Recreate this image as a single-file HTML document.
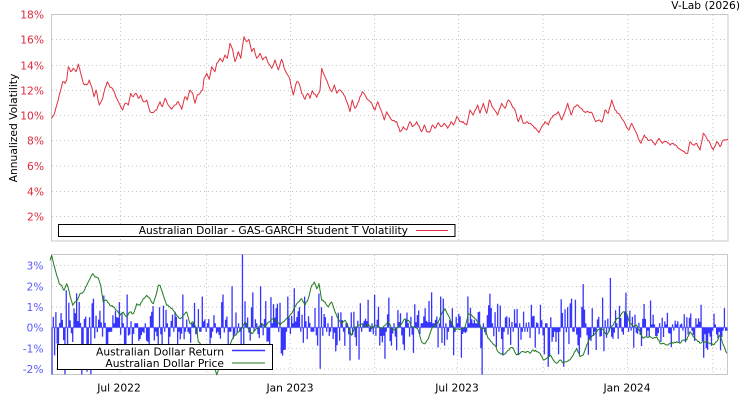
<!DOCTYPE html>
<html><head><meta charset="utf-8"><style>
html,body{margin:0;padding:0;background:#fff;}
svg{display:block;}
text{font-family:"DejaVu Sans","Liberation Sans",sans-serif;font-size:10.7px;}
</style></head><body>
<svg id="s" width="750" height="400" viewBox="0 0 750 400" xmlns="http://www.w3.org/2000/svg">
<defs>
<clipPath id="cb"><rect x="51.5" y="254.5" width="676" height="120"/></clipPath>
</defs>
<rect width="750" height="400" fill="#fff"/>
<text x="740" y="9" text-anchor="end" fill="#000">V-Lab (2026)</text>

<g stroke="#c4c4c4" stroke-width="1" stroke-dasharray="1,3" fill="none">
<path d="M52 39.5H727M52 65.5H727M52 90.5H727M52 115.5H727M52 140.5H727M52 166H727M52 191.5H727M52 216.5H727"/>
<path d="M120.5 15V240M206.5 15V240M290.5 15V240M374.5 15V240M458.5 15V240M543 15V240M628 15V240M713 15V240"/>
<path d="M52 265.5H727M52 286.5H727M52 307H727M52 348.5H727M52 369H727"/>
<path d="M120 255V373M206.5 255V373M290 255V373M374.5 255V373M457.5 255V373M543 255V373M627.5 255V373M713 255V373"/>
</g>
<rect x="51.5" y="14.5" width="676.5" height="226.5" fill="none" stroke="#c8c8c8" stroke-width="1"/>
<rect x="51.5" y="254.5" width="676" height="120" fill="none" stroke="#c8c8c8" stroke-width="1"/>

<g fill="#dc2b3c" text-anchor="end">
<text x="44" y="18.5">18%</text>
<text x="44" y="43.5">16%</text>
<text x="44" y="69.5">14%</text>
<text x="44" y="94.5">12%</text>
<text x="44" y="119.5">10%</text>
<text x="44" y="144.5">8%</text>
<text x="44" y="170">6%</text>
<text x="44" y="195.5">4%</text>
<text x="44" y="220.5">2%</text>
</g>
<text transform="translate(17,128) rotate(-90)" text-anchor="middle" fill="#000">Annualized Volatility</text>

<g fill="#5a5aff" text-anchor="end">
<text x="43.5" y="269.5">3%</text>
<text x="43.5" y="290.5">2%</text>
<text x="43.5" y="311">1%</text>
<text x="43.5" y="331.5">0%</text>
<text x="43.5" y="352.5">-1%</text>
<text x="43.5" y="373">-2%</text>
</g>

<g fill="#000" text-anchor="middle">
<text x="119" y="391.5">Jul 2022</text>
<text x="290" y="391.5">Jan 2023</text>
<text x="457" y="391.5">Jul 2023</text>
<text x="627" y="391.5">Jan 2024</text>
</g>

<polyline id="red" fill="none" stroke="#e0303f" stroke-width="1" stroke-linejoin="round" points="51.7,118.3 54,115 56.7,105 59.3,95 62.7,81.7 65,83.3 66.7,80 68.3,66.7 70.7,71.7 73.3,68.3 76,71.7 78.3,64 80.7,73.3 83.3,83.3 86.7,85 89.3,80 91.7,86.7 94,96.7 96,90 99.3,105 102.7,98.3 105,88.3 107.3,81.7 110,87.3 113.3,90 116.7,98.3 120,105 122.7,110 125,103.3 128.3,105 130.7,93.3 133.3,96.7 136,93.3 138.3,98.3 140.7,95 143.3,101.7 146.7,100 150,111.7 153.3,112.7 156.7,110 160,101.7 162.3,106.7 165,98.3 168.3,105 171.7,109.3 175,105 178.3,101.7 181.7,109.3 185,96.7 187.3,100 190,90 192.7,93.3 195,103.3 197.3,95 200,93.3 202.7,90 204,78.3 206.7,73.3 209.3,79.3 211.7,66.7 215,71.7 216.7,63.3 220,58.3 222.7,61.7 225,55 227.3,58.3 230,43.3 232.7,50 235,61.7 238.3,51.7 240.7,58.3 242.7,45 244,36.7 246.7,41.7 249,39.3 251.7,51.7 254,48.3 256.7,58.3 260,53.3 262.7,60 266,56.7 268.3,63.3 271.7,68.3 275,60 278.3,70 281.7,59.3 285,70 287.7,75 290,80 293.3,95 296.7,81.7 299,83.3 301.7,93.3 305,99.3 307.7,93.3 310,98.3 312.3,90.7 316.7,97.3 320,90 321.7,68.3 325,76.7 328.3,85 331.7,91.7 334.3,85 336.7,93.3 339,90 341.7,91.7 345,96.7 350,111.7 352.3,100 355,108.3 357.7,103.3 362.3,91.7 365,95 368.3,100 371.7,103.3 375,110 377.7,101.7 381,110 384.3,120 386.7,111.7 391.7,120 396.7,121.7 400,131.7 403.3,126.7 406.7,130 410,121.7 412.3,126.7 416.7,121.7 421.7,131.7 424.3,125 426.7,131.7 430,131.7 432.3,125 435,128.3 438.3,122.7 441,126.7 444.3,123.3 447.7,128.3 451,121.7 453.3,125 456.7,116.7 460,121.7 463.3,121.7 466.7,125 470,110 473.3,115 477.7,105 480,113.3 483.3,103.3 486.7,113.3 489.3,100 493.3,108.3 497.7,115 501.7,103.3 505,108.3 508.3,100 511.7,105 515,110 518.3,121.7 521,115 523.3,123.3 526.7,121.7 530,123.3 533.3,126 536.7,130 539,132.7 541.7,126.7 545,121.7 548.3,125 551,118.3 554.3,115 558.3,111.7 561.7,120 564.3,113.3 567.7,103.3 571,115 574.3,106.7 577.7,105 581,108.3 584.3,111.7 588.3,111.7 592.3,113.3 595.7,121.7 599,120 602.3,121.7 605,110 608.3,113.3 611.7,100 615,110 618.3,113.3 621.7,118.3 625.7,125 629,130 631.7,123.3 635.7,131.7 638.3,138.3 641,143.3 644.3,135 647.7,140 651.7,140 655,145 659,138.3 662.3,143.3 666.7,141.7 670,145 673.3,143.3 676.7,146 681,150 684.3,151.7 687.7,153.3 690,141.7 693.3,145 696.7,143.3 700,150 703.3,133.3 706.7,138.3 710,143.3 713.3,150 716.7,141.7 720,146.7 723.3,140 726.7,140 728,139"/>

<rect x="58.5" y="224.5" width="396.5" height="12" fill="#fff" stroke="#000" stroke-width="1"/>
<text x="408" y="234" text-anchor="end" fill="#000">Australian Dollar - GAS-GARCH Student T Volatility</text>
<line x1="416" y1="230.5" x2="448" y2="230.5" stroke="#e0303f" stroke-width="1"/>

<line x1="52" y1="327.5" x2="727" y2="327.5" stroke="#9a9aff" stroke-width="1.2"/>
<path id="bars" clip-path="url(#cb)" fill="none" stroke="#3535ff" stroke-width="1.3" d=""/>

<polyline id="green" fill="none" stroke="#1f7a1f" stroke-width="1" stroke-linejoin="round" points="50,260.3 51.7,255.3 54,265.3 56.7,275.3 59.3,283.7 61.7,285.3 64,290.3 66.7,283.7 69.3,292 72.7,305.3 75,302 77.3,300.3 80,293.7 83.3,292 86.7,285.3 90,278.7 92.7,273.7 95,277 98.3,278 100.7,285.3 103.3,302 106.7,300.3 110,305.3 113.3,307 116.7,310.3 120,315.3 123.3,312 126.7,317 130,312 133.3,313.7 136.7,303.7 140,305.3 143.3,298.7 146.7,295.3 150,298.7 153.3,303.7 156,295.3 158.3,285.3 160,285.3 163.3,295.3 166.7,305.3 170,307 173.3,310.3 176.7,315.3 180,318.7 183.3,315.3 186.7,312 190,323.7 193.3,322 196.7,328.7 198.3,342 201.7,345.3 205,352 208.3,358.7 211.7,362 215,368.7 216.7,374.7 218.3,370.3 221.7,362 225,355.3 228.3,348.7 231.7,340.3 235,335.3 238.3,332 241.7,328.7 245,322 248.3,328.7 251.7,333.7 255,330.3 258.3,327 261.7,323.7 265,327 268.3,322 272.7,319 276.7,321 280,325 283,322 285,320.3 288.3,317 291.7,313.7 295,307 298.3,302 301.7,298.7 305,305.3 308.3,298.7 311.7,285.3 314.3,282 316.7,288.7 319,283.7 321.7,300.3 325,302 328.3,307 331.7,302 335,312 338.3,318.7 341.7,323.7 345,320.3 348.3,327 351.7,335.3 355,327 358.3,325.3 361.7,323.7 365,327 368.3,323.7 371.7,328.7 375,325.3 378.3,327 381.7,328.7 385,325.3 388.3,322 391.7,328.7 395,330.3 398.3,327 401.7,323.7 405,318.7 408.3,320.3 411.7,327 415,327 418.3,330.3 421.7,342 425,343.7 428.3,338.7 431.7,328.7 435,325.3 438.3,322 441.7,313.7 445,308.7 448.3,315.3 451.7,323.7 455,330.3 458.3,328.7 461.7,328.7 465,327 468.3,313.7 471.7,315.3 475,318.7 478.3,322 481.7,328.7 485,328.7 488.3,338.7 491.7,342 495,345.3 498.3,352 500,353.3 503.3,355 506.7,351.7 510,348.3 513.3,348.3 516.7,355 520,353.3 523.3,351.7 526.7,351.7 530,353.3 533.3,350 536.7,351.7 540,353.3 543.3,360 546.7,358.3 550,355 553.3,360 556.7,363.3 560,360 563.3,363.3 566.7,361.7 570,360 573.3,355 576.7,348.3 580,356.7 583.3,355 586.7,345 590,338.3 593.3,335 596.7,331.7 600,328.3 603.3,330 606.7,335 610,328.3 613.3,325 616.7,318.3 620,316.7 623.3,311.7 626.7,313.3 630,323.3 633.3,326.7 636.7,325 640,331.7 643.3,338.3 646.7,336.7 650,336.7 653.3,338.3 656.7,336.7 660,343.3 663.3,343.3 666.7,345 670,343.3 673.3,343.3 676.7,341.7 680,343.3 683.3,340 686.7,340 690,331.7 693.3,336.7 696.7,340 700,343.3 703.3,341.7 706.7,341.7 710,343.3 713.3,345 716.7,341.7 720,335 723.3,345 726.7,353.3"/>

<rect x="57.5" y="344.5" width="215" height="25" fill="#fff" stroke="#000" stroke-width="1"/>
<text x="224" y="355.5" text-anchor="end" fill="#000">Australian Dollar Return</text>
<line x1="232" y1="350.5" x2="265" y2="350.5" stroke="#3535ff" stroke-width="1.5"/>
<text x="224" y="367" text-anchor="end" fill="#000">Australian Dollar Price</text>
<line x1="232" y1="363" x2="265" y2="363" stroke="#1f7a1f" stroke-width="1"/>
</svg>
<script>
(function(){
  var seed = 987654;
  function rnd(){ seed|=0; seed=seed+0x6D2B79F5|0; var t=Math.imul(seed^seed>>>15,1|seed); t=t+Math.imul(t^t>>>7,61|t)^t; return ((t^t>>>14)>>>0)/4294967296; }
  function gauss(){ var u=rnd()||1e-9, v=rnd(); return Math.sqrt(-2*Math.log(u))*Math.cos(2*Math.PI*v); }
  var N=522, x0=52, x1=727, dx=(x1-x0)/(N-1), r=[];
  for(var i=0;i<N;i++){
    var x=x0+i*dx;
    var sg = x<110?0.75:(x<630?0.7:0.5);
    var g=gauss();
    if(x<110){ g = g>0? g*0.8 : g*1.35; }
    if(Math.abs(g)<0.3) g = g<0?-0.3:0.3;
    r.push(g*sg);
  }
  var ov=[[55,-1.35],[58,-1.2],[66.7,1.8],[76.7,1.65],[93.3,1.4],[103.3,1.55],[127.7,1.6],[182.7,1.6],[201.7,1.5],[223.3,1.6],[231.7,2.0],[242.3,3.6],[253.3,1.7],[260,2.0],[294.3,1.9],[320,-2.0],[350,-1.6],[375,1.6],[431.7,1.7],[443.3,1.4],[468.3,1.5],[481.7,-2.3],[540,1.1],[558.3,-1.3],[563.3,-1.9],[571.7,1.4],[579,-1.3],[583.3,2.1],[604,-1.15],[610.7,2.4],[641.7,-0.9],[701.7,1.1],[706,-1.0],[720,-1.1]];
  for(var k=0;k<ov.length;k++){ var idx=Math.round((ov[k][0]-x0)/dx); if(idx>=0&&idx<N) r[idx]=ov[k][1]; }
  var d='';
  for(var i=0;i<N;i++){
    var x=x0+i*dx, y=327.5-r[i]*20.65;
    if(y<254) y=254; if(y>375) y=375;
    d+='M'+x.toFixed(2)+' 327.5V'+y.toFixed(1);
  }
  document.getElementById('bars').setAttribute('d',d);
  function roughen(id,amp){
    var el=document.getElementById(id);
    var pts=el.getAttribute('points').trim().split(/\s+/).map(function(p){var a=p.split(',');return [parseFloat(a[0]),parseFloat(a[1])];});
    var out=[];
    for(var j=0;j<pts.length-1;j++){
      var a=pts[j], b=pts[j+1];
      var n=Math.max(1,Math.round((b[0]-a[0])/1.3));
      for(var q=0;q<n;q++){
        var t=q/n, x=a[0]+(b[0]-a[0])*t, y=a[1]+(b[1]-a[1])*t;
        if(q>0) y+= (rnd()-0.5)*2*amp;
        out.push(x.toFixed(2)+','+y.toFixed(2));
      }
    }
    var l=pts[pts.length-1]; out.push(l[0]+','+l[1]);
    el.setAttribute('points',out.join(' '));
  }
  roughen('red',1.0);
  roughen('green',0.9);
})();
</script>
</body></html>
